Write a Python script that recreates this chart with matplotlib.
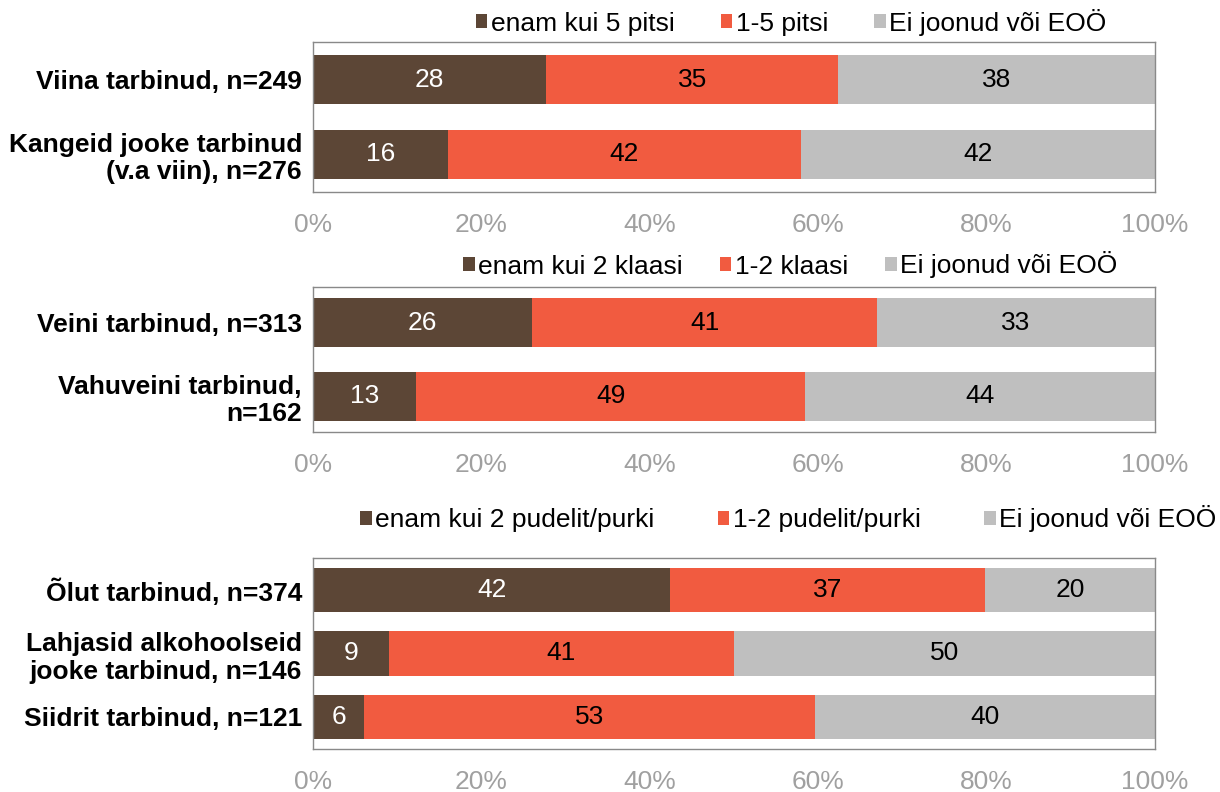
import matplotlib
matplotlib.use("Agg")
import matplotlib.pyplot as plt
from matplotlib.patches import Patch
import numpy as np

plt.rcParams['font.family'] = ['Liberation Sans', 'DejaVu Sans']

# panel 1: strong drinks
cats1 = ["Viina tarbinud, n=249", "Kangeid jooke tarbinud\n(v.a viin), n=276"]
names1 = ["enam kui 5 pitsi", "1-5 pitsi", "Ei joonud või EOÖ"]
high1 = [28, 16]
mid1 = [35, 42]
none1 = [38, 42]

# panel 2: wine
cats2 = ["Veini tarbinud, n=313", "Vahuveini tarbinud,\nn=162"]
names2 = ["enam kui 2 klaasi", "1-2 klaasi", "Ei joonud või EOÖ"]
high2 = [26, 13]
mid2 = [41, 49]
none2 = [33, 44]

# panel 3: beer, long drinks, cider
cats3 = ["Õlut tarbinud, n=374", "Lahjasid alkohoolseid\njooke tarbinud, n=146",
         "Siidrit tarbinud, n=121"]
names3 = ["enam kui 2 pudelit/purki", "1-2 pudelit/purki", "Ei joonud või EOÖ"]
high3 = [42, 9, 6]
mid3 = [37, 41, 53]
none3 = [20, 50, 40]

xticks = [0, 20, 40, 60, 80, 100]

colors = ['#5C4636', '#F15B40', '#BFBFBF']
txt_colors = ['white', 'black', 'black']
FS = 19

W, H = 1220, 792
fig = plt.figure(figsize=(W / 100, H / 100), dpi=100)


def draw_panel(rect, cats, series, names, bar_h, pad, leg_xy, colsp):
    ax = fig.add_axes(rect)
    data = np.array(series, dtype=float)
    share = data / data.sum(axis=0) * 100  # 100% stacked
    y = np.arange(len(cats))
    left = np.zeros(len(cats))
    for i in range(len(series)):
        ax.barh(y, share[i], left=left, height=bar_h, color=colors[i])
        for j in range(len(cats)):
            ax.text(left[j] + share[i][j] / 2, y[j], f"{int(data[i][j])}",
                    ha='center', va='center', fontsize=FS, color=txt_colors[i])
        left += share[i]
    ax.set_xlim(0, 100)
    ax.set_ylim(len(cats) - 1 + pad, -pad)
    ax.set_yticks(y)
    ax.set_yticklabels(cats, fontsize=FS, fontweight='bold', ha='right')
    ax.set_xticks(xticks)
    ax.set_xticklabels([f"{t}%" for t in xticks], fontsize=FS, color='#A0A0A0')
    ax.tick_params(axis='x', length=0, pad=15)
    ax.tick_params(axis='y', length=0, pad=8)
    for s in ax.spines.values():
        s.set_color('#898989')
        s.set_linewidth(1.0)
    handles = [Patch(facecolor=c, edgecolor='none') for c in colors]
    fig.legend(handles, names, loc='center', ncol=3, frameon=False,
               bbox_to_anchor=(leg_xy[0] / W, 1 - leg_xy[1] / H),
               fontsize=FS, handlelength=0.45, handleheight=0.45,
               handletextpad=0.12, columnspacing=colsp, borderpad=0)
    return ax


def rect(top, bottom):
    return [313 / W, 1 - bottom / H, (1155 - 313) / W, (bottom - top) / H]


draw_panel(rect(42, 192), cats1, [high1, mid1, none1], names1, 0.66, 0.51, (791, 22), 1.75)
draw_panel(rect(287, 432), cats2, [high2, mid2, none2], names2, 0.67, 0.49, (790, 265), 1.4)
draw_panel(rect(558, 749), cats3, [high3, mid3, none3], names3, 0.70, 0.51, (788, 519), 2.4)

fig.savefig("out.png", dpi=100)
